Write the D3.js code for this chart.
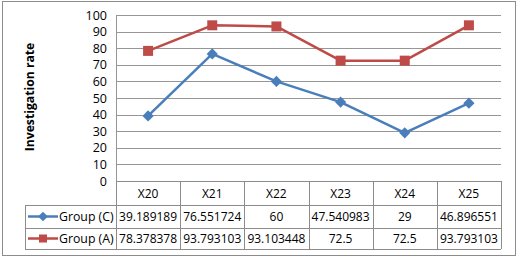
<!DOCTYPE html>
<html><head><meta charset="utf-8">
<script src="https://cdn.jsdelivr.net/npm/d3@7"></script>
<style>body{margin:0;background:#fff}svg{display:block}text{font-family:"Open Sans",sans-serif}</style>
</head><body><svg id="c" width="518" height="258"></svg>
<script>
const categories = ["X20","X21","X22","X23","X24","X25"];
const groupC = [39.189189,76.551724,60,47.540983,29,46.896551];
const groupA = [78.378378,93.793103,93.103448,72.5,72.5,93.793103];
const groupCLabels = ["39.189189","76.551724","60","47.540983","29","46.896551"];
const groupALabels = ["78.378378","93.793103","93.103448","72.5","72.5","93.793103"];
const yTicks = [0,10,20,30,40,50,60,70,80,90,100];
const seriesNames = ["Group (C)","Group (A)"];

(function(){
const svg = d3.select("#c");
const FS = 12;
svg.append("rect").attr("x",2.5).attr("y",1.5).attr("width",513).attr("height",254)
  .attr("fill","#fff").attr("stroke","#8c8c8c").attr("stroke-width",1);

const pL=116,pR=501,pT=15,pB=181;
const x = d3.scaleBand().domain(categories).range([pL,pR]);
const y = d3.scaleLinear().domain([0,100]).range([pB,pT]);

svg.append("g").selectAll("line").data(yTicks).join("line")
  .attr("x1",pL).attr("x2",pR)
  .attr("y1",d=>Math.round(y(d))+0.5).attr("y2",d=>Math.round(y(d))+0.5)
  .attr("stroke","#969696").attr("stroke-width",1);
svg.append("line").attr("x1",pL+0.5).attr("x2",pL+0.5).attr("y1",pT).attr("y2",pB)
  .attr("stroke","#969696");

const yAxis = d3.axisLeft(y).tickValues(yTicks).tickSize(0).tickPadding(9);
const ga = svg.append("g").attr("transform",`translate(${pL},0)`).call(yAxis);
ga.select(".domain").remove();
ga.selectAll("text").attr("font-size",FS+0.5).attr("fill","#000").attr("font-family","'Open Sans',sans-serif");

svg.append("text").attr("transform","translate(34,97) rotate(-90)")
  .attr("text-anchor","middle").attr("font-size",12.2).attr("font-weight","bold")
  .text("Investigation rate");

const rowY=[181,205,228,249];
const tcol="#8c8c8c";
const tg = svg.append("g");
tg.append("line").attr("x1",pL).attr("x2",pR).attr("y1",rowY[0]+0.5).attr("y2",rowY[0]+0.5).attr("stroke",tcol);
[1,2,3].forEach(i=>tg.append("line").attr("x1",25).attr("x2",pR).attr("y1",rowY[i]+0.5).attr("y2",rowY[i]+0.5).attr("stroke",tcol));
tg.append("line").attr("x1",25.5).attr("x2",25.5).attr("y1",rowY[1]).attr("y2",rowY[3]).attr("stroke",tcol);
const vx = categories.map(c=>x(c)).concat([pR]);
vx.forEach(v=>tg.append("line").attr("x1",Math.round(v)+0.5).attr("x2",Math.round(v)+0.5).attr("y1",rowY[0]).attr("y2",rowY[3]).attr("stroke",tcol));

tg.selectAll("text.h").data(categories).join("text").attr("class","h")
  .attr("x",d=>x(d)+x.bandwidth()/2).attr("y",(rowY[0]+rowY[1])/2+4.5)
  .attr("text-anchor","middle").attr("font-size",FS).text(d=>d);

const colors=["#4a7ebb","#be4b48"];
const labelsArr=[groupCLabels,groupALabels];
labelsArr.forEach((arr,i)=>{
  const cy=(rowY[i+1]+rowY[i+2])/2;
  tg.selectAll("text.v"+i).data(arr).join("text").attr("class","v"+i)
    .attr("x",(d,j)=>x(categories[j])+x.bandwidth()/2).attr("y",cy+4.5)
    .attr("text-anchor","middle").attr("font-size",FS).text(d=>d);
  tg.append("line").attr("x1",28).attr("x2",58).attr("y1",cy).attr("y2",cy)
    .attr("stroke",colors[i]).attr("stroke-width",2.5);
  if(i===0){
    tg.append("path").attr("d",d3.symbol(d3.symbolDiamond2,60)()).attr("transform",`translate(43,${cy})`).attr("fill",colors[i]);
  } else {
    tg.append("rect").attr("x",39).attr("y",cy-4).attr("width",8).attr("height",8).attr("fill",colors[i]);
  }
  tg.append("text").attr("x",59).attr("y",cy+4.5).attr("font-size",FS+0.3).text(seriesNames[i]);
});

const line = d3.line().x((d,j)=>x(categories[j])+x.bandwidth()/2).y(d=>y(d));
[groupC,groupA].forEach((ds,i)=>{
  svg.append("path").attr("d",line(ds)).attr("fill","none").attr("stroke",colors[i]).attr("stroke-width",2.5).attr("stroke-linejoin","round");
});
svg.append("g").selectAll("path").data(groupC).join("path")
  .attr("d",d3.symbol(d3.symbolDiamond2,80)())
  .attr("transform",(d,j)=>`translate(${x(categories[j])+x.bandwidth()/2},${y(d)})`)
  .attr("fill",colors[0]);
svg.append("g").selectAll("rect").data(groupA).join("rect")
  .attr("x",(d,j)=>x(categories[j])+x.bandwidth()/2-5).attr("y",d=>y(d)-5)
  .attr("width",10).attr("height",10).attr("fill",colors[1]);
})();
</script></body></html>
